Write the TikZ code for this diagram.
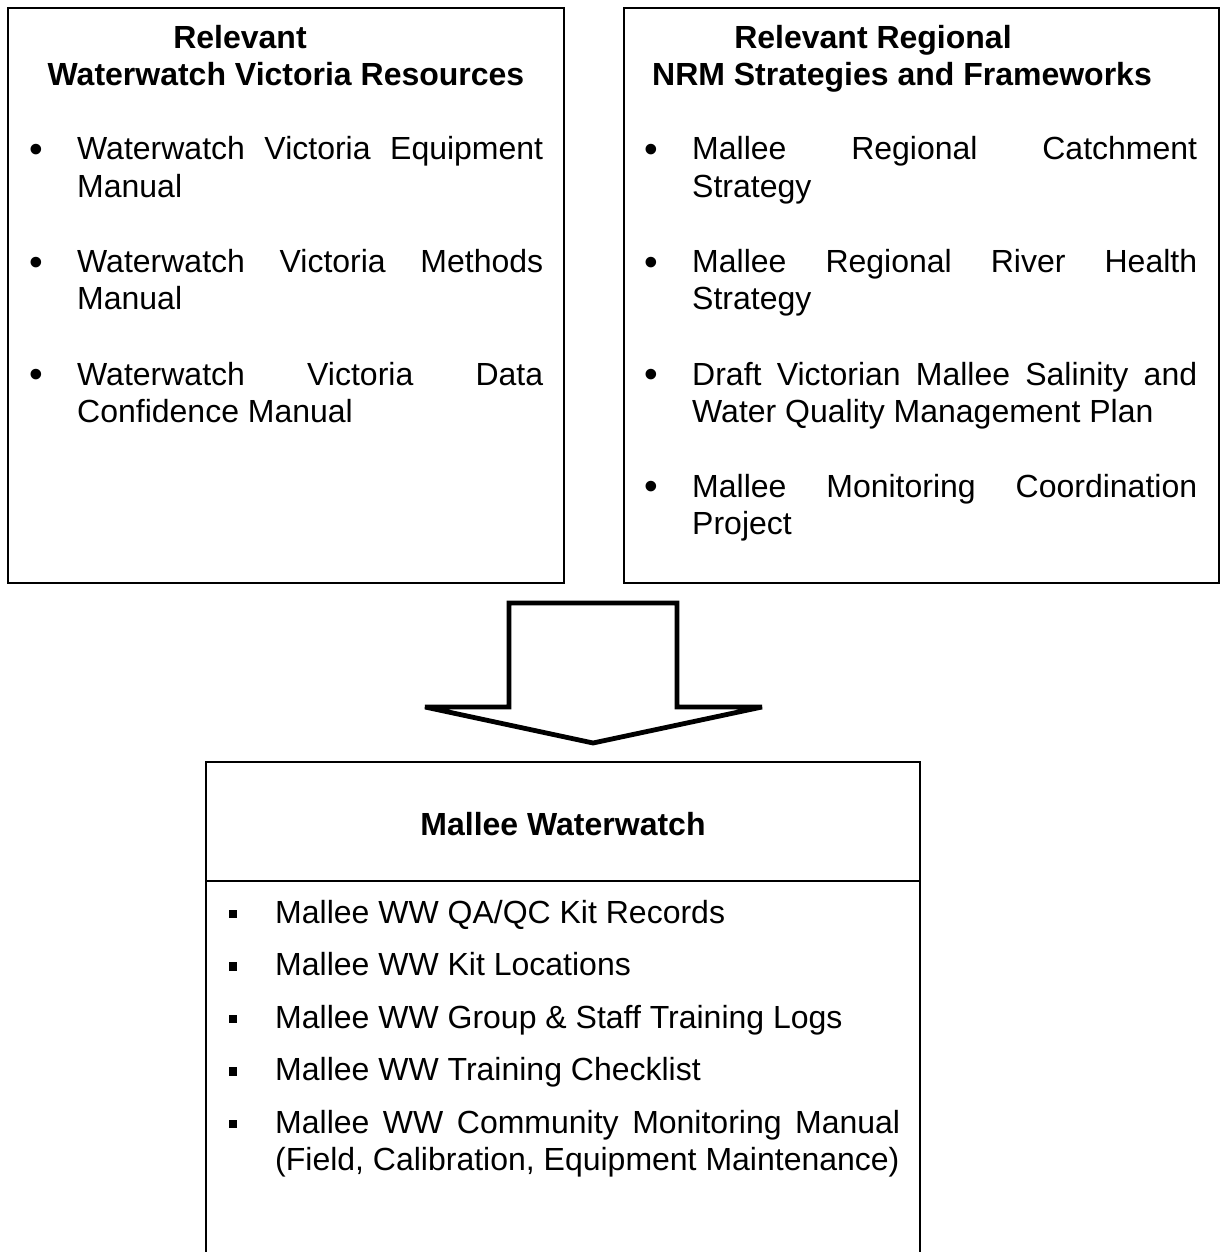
\documentclass[tikz,border=0pt]{standalone}
\usepackage{fontspec}
\setmainfont{Liberation Sans}
\usetikzlibrary{positioning}
\tikzset{%
	panel/.style     = {draw, line width=2.2pt, anchor=north west, inner sep=0pt},
	blockarrow/.style= {draw, line width=4.8pt, miter limit=2},
	entry/.style     = {anchor=base west, inner sep=0pt},
	bul/.style       = {anchor=base, inner sep=0pt},
	heading/.style   = {anchor=base, inner sep=0pt, font=\fontsize{32}{37}\selectfont\bfseries},
}
\newcommand{\sqbul}{\rule[5pt]{8.5pt}{8.5pt}}
\newcommand{\rdbul}{\raisebox{-2.5pt}{\fontsize{39}{39}\selectfont •}}

\begin{document}
\begin{tikzpicture}[x=1pt,y=-1pt,font=\fontsize{32}{37}\selectfont]
	\useasboundingbox (0,0) rectangle (1225,1252);
	
	% top left: Waterwatch Victoria resources
	\node[panel, minimum width=556pt, minimum height=575pt] (resbox) at (7,7) {};
	\node[heading] (resh1) at (240,49) {Relevant};
	\node[heading] (resh2) at (286,86) {Waterwatch Victoria Resources};
	\node[bul] (resb1) at (36,160) {\rdbul};
	\node[entry] (res1a) at (77,160) {\makebox[466pt][s]{Waterwatch Victoria Equipment}};
	\node[entry] (res1b) at (77,197) {Manual};
	\node[bul] (resb2) at (36,272.5) {\rdbul};
	\node[entry] (res2a) at (77,272.5) {\makebox[466pt][s]{Waterwatch Victoria Methods}};
	\node[entry] (res2b) at (77,309.5) {Manual};
	\node[bul] (resb3) at (36,385) {\rdbul};
	\node[entry] (res3a) at (77,385) {\makebox[466pt][s]{Waterwatch Victoria Data}};
	\node[entry] (res3b) at (77,422) {Confidence Manual};
	
	% top right: regional NRM strategies
	\node[panel, minimum width=595pt, minimum height=575pt] (nrmbox) at (623,7) {};
	\node[heading] (nrmh1) at (873,49) {Relevant Regional};
	\node[heading] (nrmh2) at (902,86) {NRM Strategies and Frameworks};
	\node[bul] (nrmb1) at (651,160) {\rdbul};
	\node[entry] (nrm1a) at (692,160) {\makebox[505pt][s]{Mallee Regional Catchment}};
	\node[entry] (nrm1b) at (692,197) {Strategy};
	\node[bul] (nrmb2) at (651,272.5) {\rdbul};
	\node[entry] (nrm2a) at (692,272.5) {\makebox[505pt][s]{Mallee Regional River Health}};
	\node[entry] (nrm2b) at (692,309.5) {Strategy};
	\node[bul] (nrmb3) at (651,385) {\rdbul};
	\node[entry] (nrm3a) at (692,385) {\makebox[505pt][s]{Draft Victorian Mallee Salinity and}};
	\node[entry] (nrm3b) at (692,422) {Water Quality Management Plan};
	\node[bul] (nrmb4) at (651,497) {\rdbul};
	\node[entry] (nrm4a) at (692,497) {\makebox[505pt][s]{Mallee Monitoring Coordination}};
	\node[entry] (nrm4b) at (692,534) {Project};
	
	% block arrow
	\draw[blockarrow] (509,707) -- (509,603) -- (677,603) -- (677,707) -- (762,707)
		-- (593,743) -- (425,707) -- cycle;
	
	% bottom: Mallee Waterwatch (open at the foot)
	\coordinate (mwsw) at (206,1260);
	\coordinate (mwse) at (920,1260);
	\draw[line width=2pt] (mwsw) |- (920,762) -- (mwse);
	\draw[line width=2pt] (206,881) -- (920,881);
	\node[heading] (mwh) at (563,835) {Mallee Waterwatch};
	\node[bul] (mwb1) at (233,923) {\sqbul};
	\node[entry] (mw1) at (275,923) {Mallee WW QA/QC Kit Records};
	\node[bul] (mwb2) at (233,975.5) {\sqbul};
	\node[entry] (mw2) at (275,975.5) {Mallee WW Kit Locations};
	\node[bul] (mwb3) at (233,1028) {\sqbul};
	\node[entry] (mw3) at (275,1028) {Mallee WW Group \& Staff Training Logs};
	\node[bul] (mwb4) at (233,1080.5) {\sqbul};
	\node[entry] (mw4) at (275,1080.5) {Mallee WW Training Checklist};
	\node[bul] (mwb5) at (233,1133) {\sqbul};
	\node[entry] (mw5a) at (275,1133) {\makebox[625pt][s]{Mallee WW Community Monitoring Manual}};
	\node[entry] (mw5b) at (275,1170) {(Field, Calibration, Equipment Maintenance)};
\end{tikzpicture}
\end{document}
